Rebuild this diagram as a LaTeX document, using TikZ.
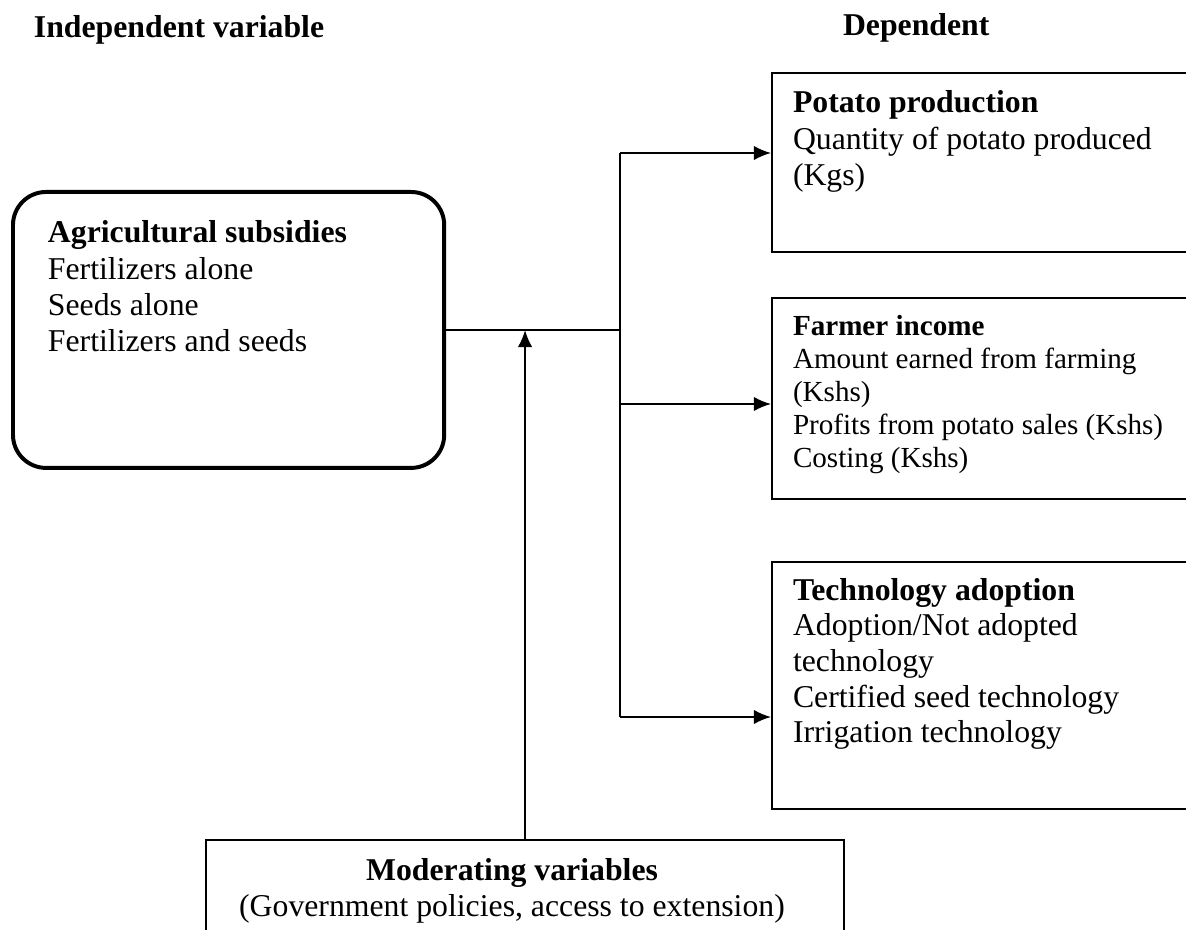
\documentclass[tikz,border=0pt]{standalone}
\usepackage{fontspec}
\setmainfont{Liberation Serif}
\usetikzlibrary{arrows.meta, positioning}

\begin{document}
\begin{tikzpicture}[
            x=0.378pt, y=-0.378pt,
            line width=0.75pt,
            >={Latex[length=6.5pt,width=5.5pt]}
        ]

        \tikzstyle{depbox}=[
            draw,
            shape=rectangle,
            anchor=north west,
            inner sep=0pt,
            minimum width=162pt
        ]
        \tikzstyle{boxtext}=[
            anchor=base west,
            inner sep=0pt,
            text width=160pt,
            align=flush left,
            font=\fontsize{12}{13.7}\selectfont
        ]
        \tikzstyle{heading}=[
            anchor=base west,
            inner sep=0pt,
            font=\fontsize{12}{13.7}\selectfont\bfseries
        ]

        \useasboundingbox (0,0) rectangle (1186,930);
        \clip (0,0) rectangle (1186,930);

        % column headings
        \node[heading] (indep) at (33,38) {Independent variable};
        \node[heading] (dep) at (842,36) {Dependent};

        % independent variable
        \node[draw, shape=rectangle, rounded corners=12.5pt, line width=1.5pt,
              anchor=north west, minimum width=163pt, minimum height=104.3pt]
              (agri) at (11,190) {};
        \node[boxtext] (agritxt) at (47,243)
            {\textbf{Agricultural subsidies}\\Fertilizers alone\\Seeds alone\\Fertilizers and seeds};

        % dependent variables
        \node[depbox, minimum height=67.7pt] (potato) at (771,72) {};
        \node[boxtext] (potatotxt) at (792,113)
            {\textbf{Potato production}\\Quantity of potato produced\\(Kgs)};
        \node[depbox, minimum height=76pt] (income) at (771,297) {};
        \node[boxtext, font=\fontsize{11}{12.5}\selectfont] (incometxt) at (792,335)
            {\textbf{Farmer income}\\Amount earned from farming\\(Kshs)\\Profits from potato sales (Kshs)\\Costing (Kshs)};
        \node[depbox, minimum height=93.4pt] (tech) at (771,561) {};
        \node[boxtext, font=\fontsize{12}{13.5}\selectfont] (techtxt) at (792,600)
            {\textbf{Technology adoption}\\Adoption/Not adopted\\technology\\Certified seed technology\\Irrigation technology};

        % moderating variables
        \node[depbox, minimum width=241.2pt, minimum height=40pt] (mod) at (205,839) {};
        \node[boxtext, anchor=base, align=flush center, text width=230pt] (modtxt) at (512,880)
            {\textbf{Moderating variables}\\(Government policies, access to extension)};

        % connectors
        \coordinate (busP) at (620,153);
        \coordinate (busI) at (620,404);
        \coordinate (busT) at (620,717);
        \draw (agri.east) -- (agri.east -| busP);
        \draw (busP) -- (busT);
        \draw[->] (busP) -- (busP -| potato.west);
        \draw[->] (busI) -- (busI -| income.west);
        \draw[->] (busT) -- (busT -| tech.west);
        \draw[->] (mod.north) -- (mod.north |- agri.east);

    \end{tikzpicture}
\end{document}
